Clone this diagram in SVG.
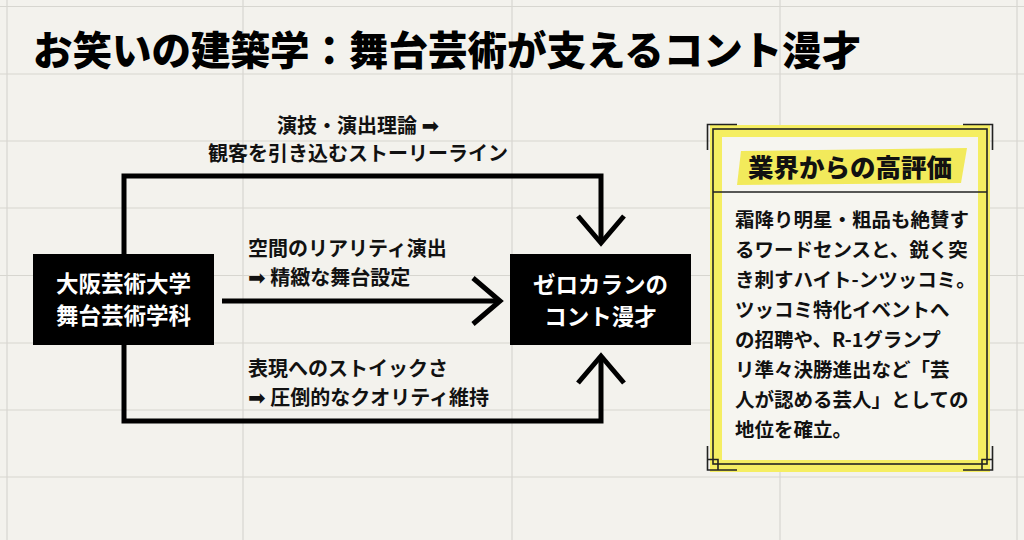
<svg xmlns="http://www.w3.org/2000/svg" width="1024" height="540" viewBox="0 0 1024 540">
  <defs>
    <style>
      .grid line { stroke: #d7d6d0; stroke-width: 1.2; }
      .conn { fill: none; stroke: #000; stroke-width: 5; stroke-linejoin: miter; }
      .jp { font-family: "Noto Sans CJK JP", "Noto Sans", "DejaVu Sans", sans-serif; }
      .title { font-size: 39.5px; font-weight: 900; fill: #000; }
      .lbl { font-size: 20px; font-weight: 700; fill: #111; }
      .arr { font-family: "DejaVu Sans", sans-serif; font-weight: 400; font-size: 21px; }
      .box { fill: #000; }
      .boxtxt { font-size: 22.5px; font-weight: 700; fill: #fff; text-anchor: middle; }
      .frame { fill: none; stroke: #222; stroke-width: 1.6; }
      .body { font-size: 19.5px; font-weight: 700; fill: #111; }
    </style>
    <marker id="chev" viewBox="-34 -28 40 56" refX="0" refY="0" markerWidth="40" markerHeight="56" markerUnits="userSpaceOnUse" orient="auto">
      <path d="M-27,-23 L0,0 L-27,23" fill="none" stroke="#000" stroke-width="5" stroke-linejoin="miter" stroke-miterlimit="10"/>
    </marker>
  </defs>

  <rect x="0" y="0" width="1024" height="540" fill="#f3f2ed"/>

  <g class="grid">
    <line x1="7" y1="0" x2="7" y2="540"/>
    <line x1="243" y1="0" x2="243" y2="540"/>
    <line x1="512" y1="0" x2="512" y2="540"/>
    <line x1="780" y1="0" x2="780" y2="540"/>
    <line x1="1017" y1="0" x2="1017" y2="540"/>
    <line x1="0" y1="6.5" x2="1024" y2="6.5"/>
    <line x1="0" y1="74" x2="1024" y2="74"/>
    <line x1="0" y1="141" x2="1024" y2="141"/>
    <line x1="0" y1="208" x2="1024" y2="208"/>
    <line x1="0" y1="275.5" x2="1024" y2="275.5"/>
    <line x1="0" y1="343" x2="1024" y2="343"/>
    <line x1="0" y1="410" x2="1024" y2="410"/>
    <line x1="0" y1="477" x2="1024" y2="477"/>
  </g>

  <g id="title">
    <text class="jp title" x="33" y="65">お笑いの建築学：舞台芸術が支えるコント漫才</text>
  </g>

  <g id="connectors">
    <path class="conn" d="M124,256 V176 H601 V243" marker-end="url(#chev)"/>
    <path class="conn" d="M222,301 H500" marker-end="url(#chev)"/>
    <path class="conn" d="M124,343 V421 H601 V356" marker-end="url(#chev)"/>
    <g class="jp lbl">
      <text x="358" y="133" text-anchor="middle">演技・演出理論 <tspan class="arr">➡</tspan></text>
      <text x="358" y="161" text-anchor="middle">観客を引き込むストーリーライン</text>
      <text x="248" y="256">空間のリアリティ演出</text>
      <text x="248" y="285"><tspan class="arr">➡</tspan> 精緻な舞台設定</text>
      <text x="248" y="376">表現へのストイックさ</text>
      <text x="248" y="405"><tspan class="arr">➡</tspan> 圧倒的なクオリティ維持</text>
    </g>
  </g>

  <g id="node-osaka">
    <rect class="box" x="33" y="254" width="181" height="91"/>
    <text class="jp boxtxt" x="123.5" y="292">大阪芸術大学</text>
    <text class="jp boxtxt" x="123.5" y="324">舞台芸術学科</text>
  </g>

  <g id="node-zerokaran">
    <rect class="box" x="510" y="254" width="181" height="91"/>
    <text class="jp boxtxt" x="600.5" y="293">ゼロカランの</text>
    <text class="jp boxtxt" x="600.5" y="325">コント漫才</text>
  </g>

  <g id="panel-praise">
    <rect x="716" y="131" width="268" height="335" fill="#f6f5f0" stroke="#f5ee62" stroke-width="12"/>
    <rect class="frame" x="713" y="129" width="274" height="335"/>
    <path class="frame" d="M737,124.5 H707.5 V150 M963,124.5 H992.5 V150 M707.5,446 V470 H737 M992.5,446 V470 H963"/>
    <path class="frame" d="M707.5,459.5 H718 V470 M992.5,459.5 H982 V470"/>
    <polygon points="741,151 967,148 961,183 737,185" fill="#f2e94a" opacity="0.9"/>
    <text class="jp" x="748" y="177" font-size="25.5" font-weight="900" fill="#111">業界からの高評価</text>
    <line x1="713" y1="192" x2="987" y2="192" stroke="#222" stroke-width="1.6"/>
    <g class="jp body">
      <text x="735" y="227">霜降り明星・粗品も絶賛す</text>
      <text x="735" y="257">るワードセンスと、鋭く突</text>
      <text x="735" y="287">き刺すハイト-ンツッコミ。</text>
      <text x="735" y="317">ツッコミ特化イベントへ</text>
      <text x="735" y="347">の招聘や、R-1グランプ</text>
      <text x="735" y="377">リ準々決勝進出など「芸</text>
      <text x="735" y="407">人が認める芸人」としての</text>
      <text x="735" y="437">地位を確立。</text>
    </g>
  </g>
</svg>
